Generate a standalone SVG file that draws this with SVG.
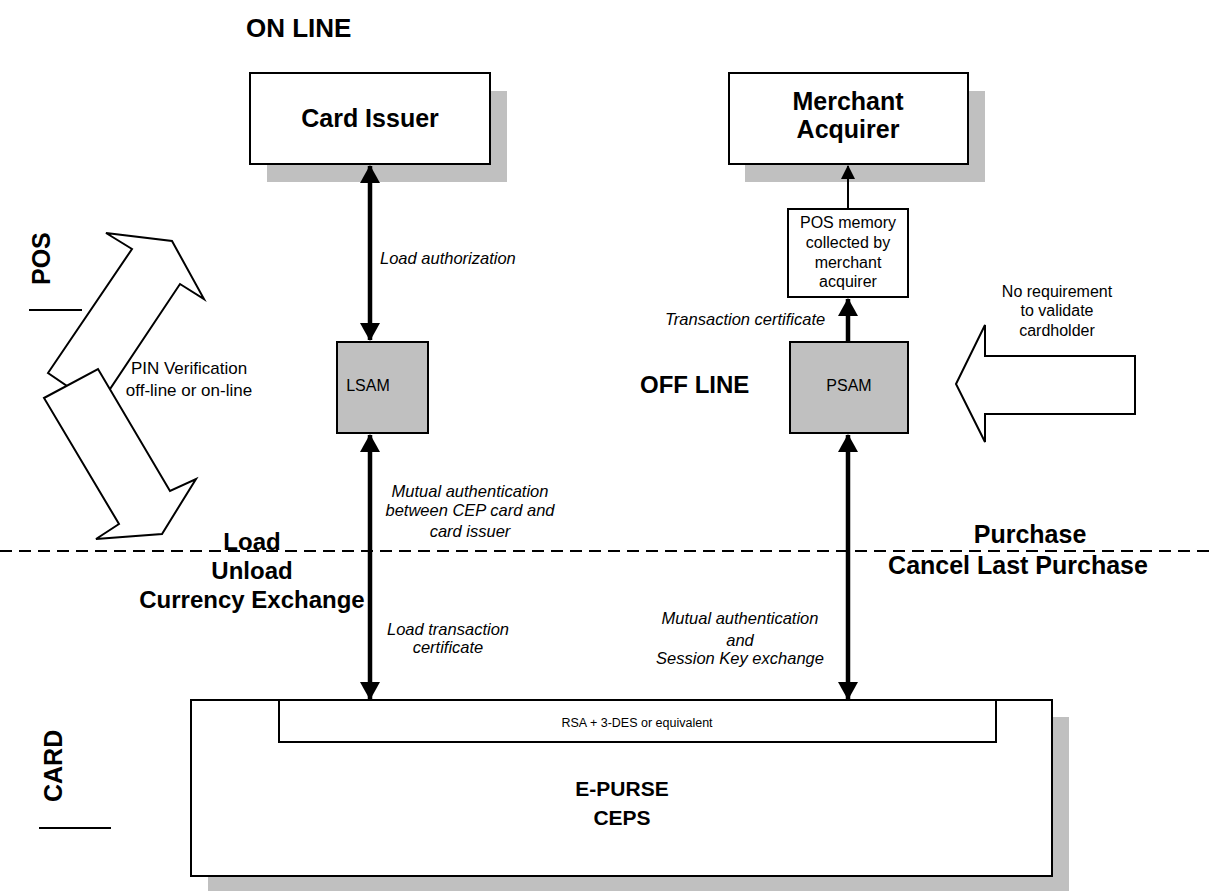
<svg xmlns="http://www.w3.org/2000/svg" width="1212" height="893" viewBox="0 0 1212 893">
  <style>
    text { font-family: "Liberation Sans", Arial, sans-serif; fill: #000; }
    .box { fill: #fff; stroke: #000; stroke-width: 2; }
    .sam { fill: #c0c0c0; stroke: #000; stroke-width: 2; }
    .shadow { fill: #c0c0c0; stroke: none; }
    .title { font-size: 24px; font-weight: bold; }
    .big { font-size: 25px; font-weight: bold; }
    .head { font-size: 26px; font-weight: bold; }
    .mid { font-size: 21px; font-weight: bold; }
    .node { font-size: 16px; }
    .pin { font-size: 17px; }
    .small { font-size: 12.5px; }
    .note { font-size: 16.5px; font-style: italic; }
    .side { font-size: 25px; font-weight: bold; }
    .thick { stroke: #000; stroke-width: 4.5; fill: none; }
    .thin { stroke: #000; stroke-width: 2; fill: none; }
    .rule { stroke: #000; stroke-width: 2; }
    .block { fill: #fff; stroke: #000; stroke-width: 2; stroke-linejoin: miter; }
  </style>
  <defs>
    <marker id="headEnd" markerUnits="userSpaceOnUse" markerWidth="20" markerHeight="20" viewBox="0 0 20 20" refX="18" refY="10" orient="auto">
      <path d="M1,0 L19,10 L1,20 Z" fill="#000"/>
    </marker>
    <marker id="headStart" markerUnits="userSpaceOnUse" markerWidth="20" markerHeight="20" viewBox="0 0 20 20" refX="2" refY="10" orient="auto">
      <path d="M19,0 L1,10 L19,20 Z" fill="#000"/>
    </marker>
    <marker id="headThin" markerUnits="userSpaceOnUse" markerWidth="14" markerHeight="14" viewBox="0 0 14 14" refX="13" refY="7" orient="auto">
      <path d="M0,0 L14,7 L0,14 Z" fill="#000"/>
    </marker>
  </defs>

  <!-- region headings -->
  <text class="head" x="246" y="37">ON LINE</text>
  <text class="title" x="640" y="393">OFF LINE</text>

  <!-- side labels -->
  <text class="side" transform="translate(50,285) rotate(-90)">POS</text>
  <line class="rule" x1="29" y1="310" x2="82" y2="310"/>
  <text class="side" transform="translate(62,802) rotate(-90)">CARD</text>
  <line class="rule" x1="39" y1="828" x2="111" y2="828"/>

  <!-- on-line / off-line boundary -->
  <line class="rule" x1="0" y1="551" x2="1212" y2="551" stroke-dasharray="12 7"/>

  <!-- transaction group labels -->
  <g text-anchor="middle">
    <text class="title" x="252" y="550">Load</text>
    <text class="title" x="252" y="579">Unload</text>
    <text class="title" x="252" y="608">Currency Exchange</text>
    <text class="big" x="1030" y="543">Purchase</text>
    <text class="big" x="1018" y="574">Cancel Last Purchase</text>
  </g>

  <!-- cardholder verification block arrows -->
  <g id="pin-arrows">
    <polygon class="block" points="48,373 132,249 106,233 172,241 204,299 180,284 98,407"/>
    <polygon class="block" points="44,398 98,369 170,491 196,479 162,534 96,539 119,524"/>
    <text class="pin" text-anchor="middle" x="189" y="374">PIN Verification</text>
    <text class="pin" text-anchor="middle" x="189" y="396">off-line or on-line</text>
  </g>

  <g id="no-cvm-arrow">
    <polygon class="block" points="956,384 985,325 985,356 1135,356 1135,414 985,414 985,442"/>
    <text class="node" text-anchor="middle" x="1057" y="297">No requirement</text>
    <text class="node" text-anchor="middle" x="1057" y="316">to validate</text>
    <text class="node" text-anchor="middle" x="1057" y="336">cardholder</text>
  </g>

  <!-- nodes -->
  <g id="card-issuer">
    <rect class="shadow" x="267" y="91" width="240" height="91"/>
    <rect class="box" x="250" y="73" width="240" height="91"/>
    <text class="big" text-anchor="middle" x="370" y="127">Card Issuer</text>
  </g>

  <g id="merchant-acquirer">
    <rect class="shadow" x="745" y="91" width="240" height="91"/>
    <rect class="box" x="729" y="73" width="239" height="91"/>
    <text class="big" text-anchor="middle" x="848" y="110">Merchant</text>
    <text class="big" text-anchor="middle" x="848" y="138">Acquirer</text>
  </g>

  <g id="pos-memory">
    <rect class="box" x="788" y="209" width="120" height="88"/>
    <text class="node" text-anchor="middle" x="848" y="228">POS memory</text>
    <text class="node" text-anchor="middle" x="848" y="248">collected by</text>
    <text class="node" text-anchor="middle" x="848" y="268">merchant</text>
    <text class="node" text-anchor="middle" x="848" y="287">acquirer</text>
  </g>

  <g id="lsam">
    <rect class="sam" x="337" y="342" width="91" height="91"/>
    <text class="node" text-anchor="middle" x="368" y="391">LSAM</text>
  </g>

  <g id="psam">
    <rect class="sam" x="790" y="342" width="118" height="91"/>
    <text class="node" text-anchor="middle" x="849" y="391">PSAM</text>
  </g>

  <g id="e-purse">
    <rect class="shadow" x="208" y="717" width="861" height="174"/>
    <rect class="box" x="191" y="700" width="861" height="176"/>
    <rect class="box" x="279" y="700" width="717" height="42"/>
    <text class="small" text-anchor="middle" x="637" y="727">RSA + 3-DES or equivalent</text>
    <text class="mid" text-anchor="middle" x="622" y="796">E-PURSE</text>
    <text class="mid" text-anchor="middle" x="622" y="825">CEPS</text>
  </g>

  <!-- connectors -->
  <g id="connectors">
    <line class="thick" x1="370" y1="166" x2="370" y2="340" marker-start="url(#headStart)" marker-end="url(#headEnd)"/>
    <line class="thick" x1="370" y1="435" x2="370" y2="699" marker-start="url(#headStart)" marker-end="url(#headEnd)"/>
    <line class="thick" x1="848" y1="341" x2="848" y2="299" marker-end="url(#headEnd)"/>
    <line class="thin" x1="848" y1="208" x2="848" y2="166" marker-end="url(#headThin)"/>
    <line class="thick" x1="848" y1="435" x2="848" y2="699" marker-start="url(#headStart)" marker-end="url(#headEnd)"/>
  </g>

  <!-- connector labels -->
  <text class="note" x="380" y="264">Load authorization</text>
  <text class="note" x="665" y="325">Transaction certificate</text>
  <g text-anchor="middle">
    <text class="note" x="470" y="497">Mutual authentication</text>
    <text class="note" x="470" y="516">between CEP card and</text>
    <text class="note" x="470" y="537">card issuer</text>
    <text class="note" x="448" y="635">Load transaction</text>
    <text class="note" x="448" y="653">certificate</text>
    <text class="note" x="740" y="624">Mutual authentication</text>
    <text class="note" x="740" y="646">and</text>
    <text class="note" x="740" y="664">Session Key exchange</text>
  </g>
</svg>
